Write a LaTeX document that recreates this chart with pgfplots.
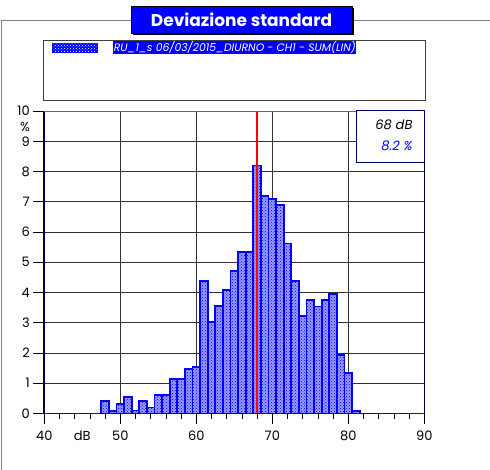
\documentclass[border=0pt]{standalone}
\usepackage{fontspec}
\setmainfont{Poppins}
\usepackage{pgfplots}
\usepackage{pgfplotstable}
\pgfplotsset{compat=1.18}
\usetikzlibrary{patterns}

\definecolor{pureblue}{RGB}{0,0,255}
\definecolor{navy}{RGB}{0,0,70}
\definecolor{framegray}{RGB}{128,128,128}

% dB class, percentage
\pgfplotstableread{
db  pct
41  0
42  0
43  0
44  0
45  0
46  0
47  0
48  0.40
49  0.07
50  0.32
51  0.54
52  0.10
53  0.40
54  0.20
55  0.62
56  0.62
57  1.15
58  1.15
59  1.46
60  1.55
61  4.38
62  3.03
63  3.55
64  4.07
65  4.70
66  5.33
67  5.33
68  8.20
69  7.19
70  7.08
71  6.90
72  5.62
73  4.37
74  3.21
75  3.74
76  3.54
77  3.74
78  3.95
79  1.94
80  1.33
81  0.08
82  0
83  0
84  0
85  0
86  0
87  0
88  0
89  0
}\hist

\begin{document}
\begin{tikzpicture}
\begin{scope}[x=1pt,y=1pt]
\path[use as bounding box] (0,0) rectangle (490,470);

% outer frame
\draw[framegray, line width=0.8pt] (1.7,0) -- (1.7,449.3) -- (490,449.3);

% title
\fill[black] (132.8,434.9) rectangle (353.8,461.5);
\draw[black, fill=pureblue, line width=0.6pt] (131,436.7) rectangle (352,463.3);
\node[text=white, font=\fontsize{17}{19}\selectfont\bfseries] at (241.5,450) {Deviazione standard};

% legend
\draw[black!75, line width=0.8pt] (43.3,370) rectangle (425,429.3);
\fill[pureblue] (51.7,416.7) rectangle (98.3,427.3);
\fill[pattern=crosshatch dots, pattern color=white] (53,418) rectangle (97,426);
\node[anchor=west, fill=pureblue, text=white, inner sep=0.6pt,
      font=\fontsize{10.8}{12}\selectfont\itshape] at (113,422.5)
      {RU\_1\_s 06/03/2015\_DIURNO - CH1 - SUM(LIN)};
\end{scope}

\begin{axis}[
  at={(44.3pt,56.5pt)}, anchor=south west,
  scale only axis,
  width=380pt, height=302.5pt,
  xmin=40, xmax=90, ymin=0, ymax=10,
  clip=false,
  axis line style={draw=none},
  xtick pos=bottom, ytick pos=left,
  xtick={40,50,60,70,80,90},
  minor xtick={42,44,...,88},
  ytick={0,1,...,10},
  tick align=outside,
  major tick length=11pt,
  minor tick length=6pt,
  tick style={black, line width=0.8pt},
  xmajorgrids, ymajorgrids,
  grid style={black!80, line width=0.8pt},
  /pgf/number format/assume math mode=true,
  ticklabel style={font=\fontsize{13}{15}\selectfont},
  xticklabel style={yshift=-3pt},
  extra x ticks={45},
  extra x tick labels={dB},
  extra x tick style={grid=none, tick style={draw=none}},
]
\addplot[ybar, bar width=1, draw=pureblue, line width=1.8pt,
  fill=pureblue!40!white,
  postaction={pattern=crosshatch dots, pattern color=pureblue}]
  table[x=db, y=pct] {\hist};
\addplot[black, dashed, line width=0.8pt] coordinates {(47.5,0) (81.5,0)};
\addplot[red, line width=1.5pt] coordinates {(68,0) (68,10)};
% box edges
\addplot[navy, line width=2pt] coordinates {(40,0) (40,10)};
\addplot[navy, line width=1.4pt] coordinates {(90,0) (90,10)};
\addplot[black!60, line width=0.8pt] coordinates {(40,10) (90,10)};
\end{axis}

\begin{scope}[x=1pt,y=1pt]
% axis unit
\node[font=\fontsize{13}{15}\selectfont] at (25,343) {\%};

% value box
\draw[fill=white, draw=navy!80!blue, line width=0.8pt] (356.7,307.3) rectangle (424.3,359.3);
\node[anchor=east, font=\fontsize{13}{15}\selectfont\itshape] at (416,345) {68 dB};
\node[anchor=east, text=pureblue, font=\fontsize{13}{15}\selectfont\itshape] at (416,324) {8.2 \%};
\end{scope}
\end{tikzpicture}
\end{document}
